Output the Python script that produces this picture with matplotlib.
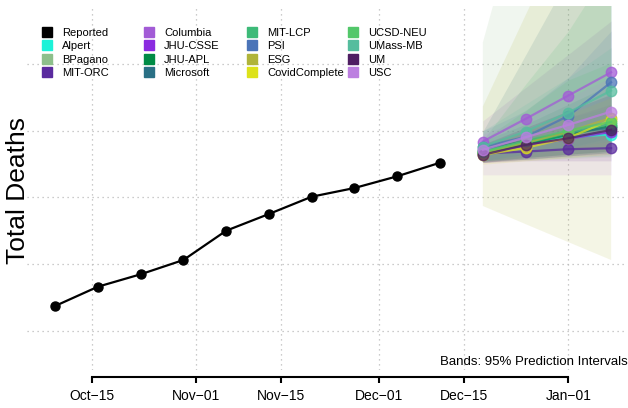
import datetime as dt
import matplotlib
matplotlib.use("Agg")
import matplotlib.pyplot as plt
import matplotlib.dates as mdates
from matplotlib.lines import Line2D

plt.rcParams['font.family'] = ['Liberation Sans', 'DejaVu Sans']

# reported cumulative deaths (weekly)
rep_dates = [dt.date(2020, 10, 9) + dt.timedelta(days=7 * i) for i in range(10)]
rep_vals = [2742, 3321, 3694, 4123, 5003, 5505, 6024, 6285, 6637, 7045]

fc_dates = [dt.date(2020, 12, 18) + dt.timedelta(days=7 * i) for i in range(4)]

models = ["Alpert", "BPagano", "MIT-ORC", "Columbia", "JHU-CSSE", "JHU-APL",
          "Microsoft", "MIT-LCP", "PSI", "ESG", "CovidComplete", "UCSD-NEU",
          "UMass-MB", "UM", "USC"]

colors = {
    "Alpert": "#1CF2D8", "BPagano": "#8DBF8B", "MIT-ORC": "#5A2A9E",
    "Columbia": "#A25BD6", "JHU-CSSE": "#8B2BE0", "JHU-APL": "#008B45",
    "Microsoft": "#2A7085", "MIT-LCP": "#3DBA78", "PSI": "#4B74B8",
    "ESG": "#B0B43A", "CovidComplete": "#DDE21A", "UCSD-NEU": "#52C76A",
    "UMass-MB": "#55BD9E", "UM": "#4E1E62", "USC": "#BC7FE0",
}

# point forecasts
point = {
    "Columbia": [7680, 8360, 9060, 9760],
    "PSI": [7520, 7820, 8450, 9460],
    "UMass-MB": [7530, 7980, 8550, 9210],
    "USC": [7430, 7810, 8180, 8580],
    "ESG": [7340, 7640, 7970, 8390],
    "CovidComplete": [7280, 7490, 7790, 8330],
    "UCSD-NEU": [7370, 7700, 8010, 8270],
    "MIT-LCP": [7370, 7640, 7940, 8210],
    "JHU-APL": [7340, 7610, 7880, 8150],
    "BPagano": [7400, 7670, 7910, 8110],
    "Microsoft": [7430, 7700, 7940, 8090],
    "UM": [7280, 7580, 7780, 8030],
    "Alpert": [7370, 7670, 7820, 7890],
    "JHU-CSSE": [7310, 7550, 7760, 7970],
    "MIT-ORC": [7320, 7380, 7450, 7480],
}

# 95% prediction intervals
lower = {
    "Columbia": [7050, 7200, 7300, 7400],
    "PSI": [7100, 7300, 7500, 7800],
    "UMass-MB": [7100, 7300, 7500, 7700],
    "USC": [6680, 6680, 6680, 6680],
    "ESG": [5745, 5200, 4660, 4123],
    "CovidComplete": [7000, 7100, 7200, 7300],
    "UCSD-NEU": [7080, 7150, 7250, 7350],
    "MIT-LCP": [7100, 7150, 7200, 7250],
    "JHU-APL": [7100, 7200, 7300, 7400],
    "BPagano": [7050, 7100, 7150, 7200],
    "Microsoft": [7050, 7200, 7300, 7400],
    "UM": [7050, 7150, 7250, 7350],
    "Alpert": [7100, 7200, 7300, 7350],
    "JHU-CSSE": [7080, 7150, 7250, 7300],
    "MIT-ORC": [7050, 7100, 7100, 7100],
}
upper = {
    "Columbia": [8300, 9300, 10300, 11300],
    "PSI": [8000, 8600, 9600, 11000],
    "UMass-MB": [8000, 8800, 9600, 10500],
    "USC": [7900, 8400, 9000, 9600],
    "ESG": [8730, 11470, 14200, 17000],
    "CovidComplete": [7600, 8000, 8500, 9000],
    "UCSD-NEU": [7720, 8620, 9530, 10050],
    "MIT-LCP": [7720, 9400, 11000, 13000],
    "JHU-APL": [7700, 8200, 8800, 9400],
    "BPagano": [10650, 15300, 20000, 24000],
    "Microsoft": [7980, 10280, 12600, 14900],
    "UM": [7600, 8100, 8600, 9100],
    "Alpert": [7600, 8000, 8400, 8700],
    "JHU-CSSE": [7600, 8000, 8400, 8800],
    "MIT-ORC": [7600, 7800, 8000, 8200],
}

tick_dates = [dt.date(2020, 10, 15), dt.date(2020, 11, 1), dt.date(2020, 11, 15),
              dt.date(2020, 12, 1), dt.date(2020, 12, 15), dt.date(2021, 1, 1)]
tick_labels = ["Oct\u221215", "Nov\u221201", "Nov\u221215", "Dec\u221201",
               "Dec\u221215", "Jan\u221201"]
grid_y = [2000, 4000, 6000, 8000, 10000]

fig = plt.figure(figsize=(6.28, 4.08), dpi=100)
ax = fig.add_axes([27 / 628, 1 - 370 / 408, 600 / 628, 364 / 408])

for m in models:
    ax.fill_between(fc_dates, lower[m], upper[m], color=colors[m], alpha=0.13,
                    linewidth=0, zorder=1)
for m in models:
    ax.plot(fc_dates, point[m], color=colors[m], lw=1.6, marker='o', ms=7.5,
            alpha=0.75, zorder=3)

ax.plot(rep_dates, rep_vals, color='black', lw=1.6, marker='o', ms=6.5, zorder=4)

x0 = mdates.date2num(dt.date(2020, 10, 15))
ax.set_xlim(x0 - 10.6, x0 + 87.6)
ax.set_ylim(820, 11750)

ax.set_xticks(tick_dates)
ax.set_xticklabels(tick_labels, fontsize=12.8)
ax.set_yticks(grid_y)
ax.set_yticklabels([])
ax.tick_params(axis='y', length=0)
ax.tick_params(axis='x', length=4, width=1.5, pad=5)
ax.grid(True, linestyle=(0, (1, 3)), color='#BBBBBB', linewidth=0.9, zorder=0)
ax.set_axisbelow(True)

for s in ['top', 'right', 'left']:
    ax.spines[s].set_visible(False)
ax.spines['bottom'].set_position(('outward', 5))
ax.spines['bottom'].set_bounds(mdates.date2num(tick_dates[0]),
                               mdates.date2num(tick_dates[-1]))
ax.spines['bottom'].set_linewidth(1.5)

fig.text(18 / 628, 1 - 191 / 408, "Total Deaths", rotation=90, ha='center',
         va='center', fontsize=19)

fig.text(1.0, 1 - 365 / 408, "Bands: 95% Prediction Intervals",
         ha='right', va='baseline', fontsize=9.5)

# legend, four columns
labels = ["Reported"] + models
lcolors = ['black'] + [colors[m] for m in models]
col_x = [41.7, 143.7, 246.7, 347.7]
for c in range(4):
    handles = [Line2D([], [], ls='none', marker='s', ms=6.7, color=lcolors[i])
               for i in range(c * 4, c * 4 + 4)]
    fig.legend(handles, labels[c * 4:c * 4 + 4], loc='upper left',
               bbox_to_anchor=(col_x[c] / 628, 1 - 28 / 408),
               frameon=False, fontsize=8, handlelength=1.0,
               handletextpad=0.85, labelspacing=0.3, borderpad=0,
               borderaxespad=0)

fig.savefig("out.png", dpi=100)
